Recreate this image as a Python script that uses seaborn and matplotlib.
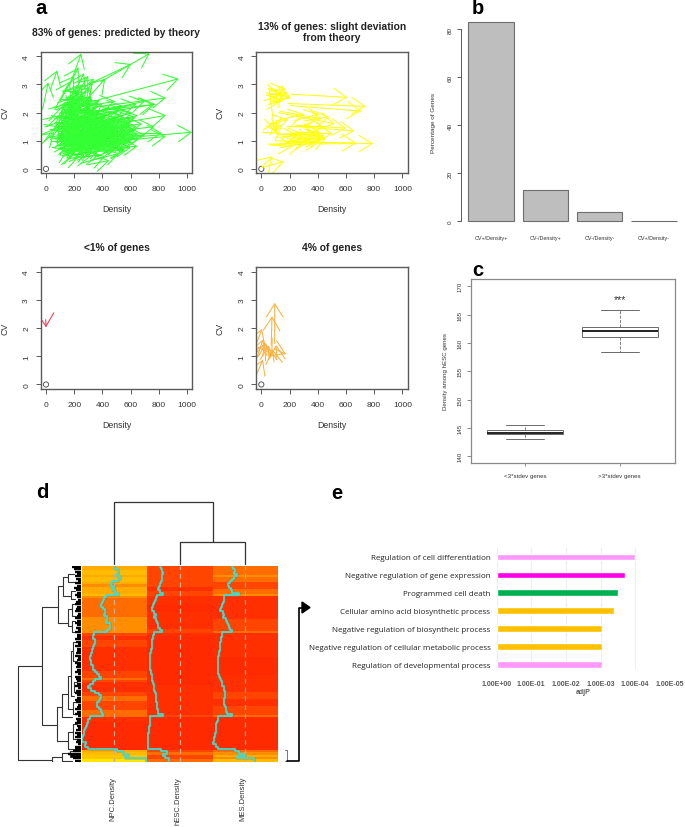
import numpy as np
import pandas as pd
import seaborn as sns
import matplotlib
matplotlib.use("Agg")
import matplotlib.pyplot as plt
from matplotlib.colors import LinearSegmentedColormap
from matplotlib.lines import Line2D
from matplotlib.patches import FancyArrowPatch, Polygon

# values
# arrows: (density start, cv start, density end, cv end)
green_arrows = [
    (420,1.05,1035,1.3),(370,2.45,940,3.2),(390,3.1,735,4.1),(300,3.0,605,3.72),(170,3.0,250,4.1),
    (350,2.2,850,2.52),(300,1.9,775,2.3),(500,1.6,850,1.9),(400,1.2,820,1.27),(300,0.9,848,1.15),
    (30,2.8,80,3.5),(120,2.7,200,3.3),(100,2.4,230,3.6),(60,2.1,170,3.1),(-24,2.12,16,3.07),
    (210,2.6,300,3.3),(150,2.3,340,3.2),(240,2.2,420,3.2),(130,2.0,310,2.9),(80,1.8,230,3.0),
    (180,2.5,270,3.4),(200,2.3,330,3.05),(170,2.4,260,3.0),(-40,0.85,60,1.3),(-40,1.2,100,1.5),
    (-10,1.0,100,1.7),(20,1.7,130,2.3),(10,1.5,90,1.9),(250,1.9,640,2.3),(330,2.0,700,2.4),
    (400,2.1,760,2.28),(300,1.5,650,1.9),(350,1.4,680,1.6),(280,1.2,600,1.55),(360,1.0,640,1.4),
    (420,1.3,770,1.5),(380,1.1,700,1.2),(330,0.9,660,1.1),(300,0.8,600,1.0),(250,0.7,650,0.8),
    (300,0.6,560,0.7),(200,0.5,480,0.7),(320,0.3,520,0.55),(250,0.2,420,0.45),(300,0.15,450,0.3),
    (60,0.6,230,1.1),(80,0.9,210,1.7),(90,1.1,190,2.0),(70,1.3,220,2.2),(100,1.6,240,2.5),
    (120,1.8,260,2.7),(90,0.5,190,0.9),(110,0.7,260,1.2),(130,0.9,300,1.5),(140,1.2,280,1.9),
    (150,1.5,300,2.3),(160,1.7,320,2.6),(170,2.0,330,2.5),(100,1.0,330,1.3),(120,1.3,360,1.7),
    (130,0.6,340,0.9),(150,0.4,300,0.7),(170,0.8,410,1.2),(190,1.1,420,1.6),(180,1.4,380,2.0),
    (200,1.7,400,2.3),(210,1.9,370,2.4),(160,1.0,450,1.5),(190,0.6,430,1.0),(220,0.9,480,1.3),
    (230,1.2,500,1.7),(240,1.5,470,2.0),(250,1.7,450,2.2),(220,0.5,390,0.8),(260,0.7,520,1.0),
    (270,1.0,560,1.4),(280,1.3,540,1.8),(300,1.6,520,2.1),(130,1.4,250,1.6),(110,1.7,230,1.9),
    (140,2.0,240,2.3),(150,0.7,250,0.8),(170,1.2,270,1.4),(190,0.9,300,1.0),(200,1.5,310,1.7),
    (210,1.3,330,1.5),(230,1.8,340,2.0),(220,1.0,340,1.1),(250,1.4,370,1.6),(260,1.1,390,1.3),
    (240,0.7,360,0.8),(280,0.8,410,1.0),(300,1.1,440,1.3),(310,1.4,450,1.7),(290,1.7,420,1.9),
    (330,1.2,480,1.4),(340,0.9,490,1.1),(350,1.6,500,1.8),(370,1.3,530,1.5),(380,0.8,540,0.9),
    (400,1.1,580,1.2),(410,1.5,590,1.6),(430,0.7,600,0.75),(120,1.1,200,1.3),(100,1.4,180,1.6),
    (130,1.7,210,2.1),(140,0.8,220,1.0),(160,1.3,240,1.5),(170,1.6,250,1.9),(180,1.0,260,1.2),
    (190,1.8,270,2.1),(200,0.7,280,0.9),(210,1.2,290,1.3),(220,1.5,300,1.7),(230,2.0,310,2.3),
    (240,1.0,320,1.2),(250,0.6,330,0.75),(260,1.3,340,1.4),(270,1.6,350,1.8),(280,1.0,360,1.15),
    (290,1.2,370,1.35),(300,0.9,380,1.05),(310,1.5,390,1.6),(150,1.1,310,1.3),(170,1.5,330,1.75),
    (190,1.3,350,1.45),(210,0.8,370,0.95),(230,1.1,390,1.25),(250,1.5,410,1.65),(130,1.2,270,1.0),
    (160,1.9,300,1.6),(180,1.2,340,0.9),(200,2.1,360,1.8),(220,1.6,420,1.25),(240,1.3,440,1.05),
    (260,1.8,480,1.45),(280,1.5,520,1.2),(300,1.3,560,1.0),
]
green_core = [
    (110,0.95,290,1.35),(120,0.55,280,0.75),(140,1.05,320,1.55),(150,1.3,340,2.05),(160,0.65,310,1.05),
    (170,1.85,310,2.45),(180,0.75,360,1.25),(190,1.55,350,2.2),(200,1.05,380,1.45),(210,1.65,380,2.05),
    (220,0.75,420,1.1),(230,1.35,400,1.85),(240,0.85,460,1.2),(250,1.2,430,1.7),(260,1.55,430,1.95),
    (270,0.75,500,0.95),(280,1.1,500,1.45),(290,1.45,490,1.75),(300,0.7,530,0.85),(310,1.05,540,1.25),
    (320,1.3,560,1.45),(330,1.55,550,1.9),(340,0.75,570,0.95),(350,1.1,590,1.3),(360,1.35,600,1.55),
    (120,0.75,220,0.65),(130,1.05,230,0.85),(140,1.55,240,1.25),(150,1.85,250,1.55),(160,2.2,260,1.95),
    (170,0.55,270,0.5),(180,0.95,280,0.75),(190,1.45,290,1.15),(200,1.95,300,1.7),(210,2.35,320,2.1),
    (220,1.15,320,0.9),(230,0.6,330,0.55),(240,1.6,340,1.35),(250,2.1,350,1.85),(260,0.95,360,0.7),
    (270,1.35,370,1.15),(280,1.85,380,1.6),(290,0.85,390,0.65),(300,1.25,400,1.05),(310,1.65,410,1.5),
    (320,0.95,420,0.8),(330,1.45,430,1.25),(340,1.1,440,0.95),(350,0.7,450,0.6),(360,1.25,460,1.1),
    (370,1.55,470,1.4),(380,0.95,480,0.85),(390,1.35,500,1.2),(400,0.85,510,0.75),(410,1.15,530,1.05),
    (100,1.2,190,1.05),(110,1.5,200,1.3),(120,1.9,210,1.6),(130,2.2,220,2.45),(140,2.5,230,2.75),
    (150,2.15,250,2.5),(170,2.2,270,2.6),(190,2.4,290,2.75),(220,2.2,320,2.55),(250,2.0,350,2.35),
    (280,2.1,380,2.45),
]
green_fringe = [
    (60,0.75,170,1.15),(70,1.05,165,1.5),(80,1.45,170,1.95),(90,1.75,180,2.3),(95,0.55,160,0.7),
    (105,1.25,150,1.75),(110,2.05,190,2.55),(115,0.85,190,1.2),(125,1.55,200,2.15),(135,0.5,210,0.6),
    (70,0.95,130,1.25),(85,1.25,135,0.95),(100,2.0,150,1.75),(120,2.3,170,2.05),(75,1.6,145,1.35),
    (90,0.8,150,1.0),(105,1.85,205,2.45),(140,1.0,195,0.8),(145,1.35,215,1.05),(150,1.65,225,1.4),
    (155,2.05,235,1.8),(165,0.9,235,0.6),(175,2.55,245,2.3),(430,1.0,625,1.1),(440,1.25,620,1.4),
    (420,0.85,610,0.95),(450,1.45,640,1.5),(460,1.15,650,1.25),(380,1.5,600,1.75),(390,0.7,560,0.65),
    (400,1.7,610,2.0),(420,1.6,630,1.85),(350,1.85,560,2.1),(360,2.05,540,2.25),(310,2.25,490,2.4),
    (120,0.45,200,0.5),(220,0.4,320,0.45),(280,0.45,380,0.5),(160,0.35,240,0.45),
]
yellow_arrows = [
    (47,0.88,792,0.9),(190,2.32,740,2.22),(210,2.65,610,2.54),(270,0.95,674,0.92),(120,2.0,520,1.6),
    (130,2.05,425,1.77),(250,1.5,660,1.35),(100,1.25,450,1.17),(50,2.85,210,2.5),(60,2.75,170,2.85),
    (50,2.6,165,2.42),(60,2.3,150,2.75),(5,0.05,160,0.26),(0,0.05,80,0.45),(55,2.85,95,1.3),
    (60,0.85,415,1.0),(100,1.0,340,0.95),(240,1.3,505,1.25),(70,0.85,225,0.8),(200,2.25,710,2.05),
    (120,1.2,410,1.35),(150,1.1,300,1.25),(180,1.5,440,1.5),(100,1.7,300,1.95),(60,1.6,190,1.75),
    (50,1.5,120,1.25),(200,0.9,440,1.15),(130,0.75,290,0.9),(150,1.15,260,1.2),
    (70,2.55,180,2.7),(80,2.4,140,2.4),(40,2.7,130,2.6),(100,2.65,200,2.55),(210,1.1,420,1.05),
    (250,1.25,400,1.2),(300,0.85,460,1.1),(120,0.85,330,1.1),(170,1.25,350,1.0),(180,0.95,420,1.25),
    (90,1.35,150,1.55),(60,1.2,110,1.7),(230,1.7,410,1.95),(240,1.55,600,1.45),(300,1.7,480,1.85),
]
red_arrows = [(-2, 2.3, 0, 2.03)]
orange_arrows = [
    (95,1.45,95,2.9),(70,1.4,76,2.42),(-35,1.45,5,1.97),(-30,0.95,12,1.6),(10,1.0,25,1.5),
    (-20,1.0,28,1.43),(90,0.8,78,1.25),(110,0.9,105,1.4),(50,1.0,50,1.38),(-35,0.35,12,0.88),
    (100,1.25,175,1.08),(30,1.45,78,1.05),
]
panel_titles = ["83% of genes: predicted by theory", "13% of genes: slight deviation\nfrom theory",
                "<1% of genes", "4% of genes"]

bar_labels = ["CV+/Density+", "CV-/Density+", "CV-/Density-", "CV+/Density-"]
bar_values = [83, 13, 4, 0.2]

box_groups = ["<3*stdev genes"] * 5 + [">3*stdev genes"] * 5
box_values = [143.0, 143.9, 144.2, 144.6, 145.6, 158.5, 161.1, 162.05, 162.9, 165.8]

col_names = ["NPC.Density", "hESC.Density", "MES.Density"]
npc_density = [.51,.51,.55,.55,.54,.59,.56,.46,.45,.49,.46,.51,.56,.37,.34,.33,.31,.29,.33,.35,.36,
               .34,.38,.39,.37,.43,.44,.41,.38,.19,.17,.18,.20,.20,.19,.17,.16,.15,.14,.13,.13,.14,
               .14,.17,.18,.20,.23,.26,.29,.20,.17,.12,.09,.14,.20,.26,.30,.28,.26,.24,.23,.27,.30,
               .31,.32,.12,.10,.09,.08,.07,.05,.04,.03,.02,.01,.01,.07,.05,.09,.54,.63,.71,.66,.99]
hesc_density = [.19,.21,.23,.25,.23,.22,.23,.21,.19,.18,.17,.19,.25,.15,.13,.12,.11,.09,.08,.07,.11,
                .13,.11,.14,.15,.16,.17,.19,.22,.10,.09,.09,.08,.08,.07,.07,.06,.06,.05,.04,.04,.04,
                .05,.05,.05,.06,.06,.07,.08,.08,.09,.10,.11,.11,.12,.13,.13,.14,.14,.15,.15,.15,.16,
                .17,.24,.05,.05,.04,.04,.03,.03,.03,.02,.02,.02,.01,.01,.01,.02,.21,.30,.25,.27,.33]
mes_density = [.30,.31,.34,.32,.38,.32,.30,.27,.23,.25,.28,.29,.41,.18,.18,.17,.16,.14,.13,.12,.16,
               .18,.16,.20,.22,.24,.25,.27,.30,.14,.14,.13,.13,.12,.12,.11,.11,.10,.10,.09,.09,.09,
               .08,.08,.08,.08,.09,.10,.12,.13,.14,.15,.17,.18,.19,.19,.19,.18,.18,.18,.19,.20,.21,
               .22,.30,.09,.08,.07,.06,.06,.05,.05,.04,.03,.02,.02,.01,.06,.08,.35,.40,.50,.37,.63]
# left tree: (x of join, y top, y bottom, x top child, x bottom child)
row_tree = [
    (53,560,843,125,155),(125,383,737,175,170),(175,322,432,190,205),(190,295,350,205,212),
    (205,285,310,222,225),(212,335,360,225,225),(205,390,440,215,215),(215,375,410,228,228),
    (215,425,460,225,228),(170,685,785,185,205),(185,645,715,205,215),(205,590,690,212,218),
    (212,515,650,220,222),(220,490,545,230,230),(222,610,640,232,232),(218,670,705,232,232),
    (205,760,810,218,225),(218,735,780,230,232),(155,835,848,185,190),(185,822,845,210,215),
    (210,815,835,230,232),
]
leaf_start = [215,222,226,232,224,228,234,226,230,222,228,232,226,230,234,228,224,232,228,226,234,230,
              226,232,224,230,228,234,226,232,230,224,228,234,226,230,232,228,224,234,230,226,232,228,
              230,226,234,224,228,232,230,226,234,228,224,232,230,226,228,234,232,226,230,224,234,228,
              232,226,230,234,228,224,232,226,230,228,234,226,224,218,205,212,220,226]

go_terms = ["Regulation of cell differentiation", "Negative regulation of gene expression",
            "Programmed cell death", "Cellular amino acid biosynthetic process",
            "Negative regulation of biosyntheic process", "Negative regulation of cellular metabolic process",
            "Regulation of developmental process"]
go_adjp = [1.0e-4, 2.0e-4, 3.1e-4, 4.1e-4, 9.1e-4, 9.1e-4, 9.1e-4]
go_colors = ["#FF99FF", "#FF00E6", "#00B050", "#FFC000", "#FFC000", "#FFC000", "#FF99FF"]
adjp_ticks = ["1.00E+00", "1.00E-01", "1.00E-02", "1.00E-03", "1.00E-04", "1.00E-05"]

W, H = 685, 828
sns.set_style("ticks")
plt.rcParams["font.family"] = ["Liberation Sans", "DejaVu Sans"]
fig = plt.figure(figsize=(W / 100, H / 100), dpi=100)
AXC = "#5a5a5a"
TXT = "#333333"


def ax_px(left, top, right, bottom):
    return fig.add_axes([left / W, 1 - bottom / H, (right - left) / W, (bottom - top) / H])


def txt(x, y, s, size, rotation=0, weight="normal", color=TXT, ha="center", va="center", **kw):
    fig.text(x / W, 1 - y / H, s, fontsize=size, rotation=rotation, weight=weight,
             color=color, ha=ha, va=va, **kw)


def line_px(xs, ys, color="black", lw=1.2):
    fig.add_artist(Line2D([x / W for x in xs], [1 - y / H for y in ys], color=color, lw=lw))


# a: arrow panels
def arrow_panel(left, top, arrows, color, title, title_y):
    ax = ax_px(left, top, left + 151.6, top + 121.5)
    sns.scatterplot(x=[0], y=[0], ax=ax, s=14, facecolor="none", edgecolor=AXC, linewidth=0.7)
    for x0, y0, x1, y1 in arrows:
        ax.add_patch(FancyArrowPatch((x0, y0), (x1, y1), arrowstyle="->,head_length=0.95,head_width=0.6",
                                     mutation_scale=10, shrinkA=0, shrinkB=0, color=color, lw=0.75))
    ax.set_xlim(-37.6, 1037)
    ax.set_ylim(-0.153, 4.16)
    ax.set_xticks(range(0, 1001, 200))
    ax.set_yticks(range(0, 5))
    ax.tick_params(length=3.6, width=0.7, color=AXC, labelsize=6, labelcolor=TXT, pad=5)
    ax.tick_params(axis="y", labelrotation=90, pad=4)
    for lab in ax.get_yticklabels():
        lab.set_va("center")
    for sp in ax.spines.values():
        sp.set_color(AXC)
        sp.set_linewidth(1.0)
    cx = left + 75.8
    txt(cx, title_y, title, 7.4, weight="bold", color="#222222", linespacing=1.05)
    txt(cx, top + 157.3, "Density", 6.3)
    txt(left - 35.7, top + 60.6, "CV", 6.3, rotation=90)


arrow_panel(40.7, 52.7, green_arrows + green_core + green_fringe, "#33FF33", panel_titles[0], 32.5)
arrow_panel(256, 52.7, yellow_arrows, "#FFFF11", panel_titles[1], 32.5)
arrow_panel(40.7, 268.3, red_arrows, "#E8384F", panel_titles[2], 248)
arrow_panel(256, 268.3, orange_arrows, "#FBB040", panel_titles[3], 248)

# b: bars
ax = ax_px(460.7, 20, 680, 222.3)
sns.barplot(x=bar_labels, y=bar_values, ax=ax, width=0.835, color="#BEBEBE", saturation=1,
            edgecolor="#6e6e6e", linewidth=0.8)
for p in ax.patches:
    p.set_clip_on(False)
ax.set_xlim(-0.557, 3.478)
ax.set_ylim(0, 84.3)
ax.set_yticks(range(0, 81, 20))
ax.tick_params(axis="y", length=3, width=0.7, color=AXC, labelsize=4.6, labelcolor=TXT, pad=3, labelrotation=90)
for lab in ax.get_yticklabels():
    lab.set_va("center")
ax.tick_params(axis="x", length=0, labelsize=3.9, labelcolor=TXT, pad=10)
for s in ["top", "right", "bottom"]:
    ax.spines[s].set_visible(False)
ax.spines["left"].set_bounds(0, 80)
ax.spines["left"].set_color(AXC)
ax.spines["left"].set_linewidth(0.7)
txt(433.3, 123.3, "Percentage of Genes", 4.6, rotation=90)

# c: box plot
ax = ax_px(470.7, 280, 675, 464.3)
sns.boxplot(x=box_groups, y=box_values, ax=ax, width=0.8, whis=(0, 100), fliersize=0, color="white",
            linecolor="#6a6a6a", linewidth=0.7, capwidths=0.4, saturation=1,
            whiskerprops={"linestyle": "--", "linewidth": 0.6},
            medianprops={"color": "#222222", "linewidth": 1.4})
ax.set_xlim(0.427 - 1, 2.584 - 1)
ax.set_ylim(138.77, 171.3)
ax.set_yticks(range(140, 171, 5))
ax.tick_params(axis="y", length=3, width=0.7, color="#8a8a8a", labelsize=4.4, labelcolor=TXT, pad=3, labelrotation=90)
for lab in ax.get_yticklabels():
    lab.set_va("center")
ax.tick_params(axis="x", length=2, width=0.7, color="#8a8a8a", labelsize=4.4, labelcolor=TXT, pad=5)
for sp in ax.spines.values():
    sp.set_color("#8a8a8a")
    sp.set_linewidth(0.9)
ax.text(1, 167.7, "***", ha="center", va="center", fontsize=7.5, color=TXT)
txt(445, 371.7, "Density among hESC genes", 4.4, rotation=90)

# d: heat map with traces
heat = pd.DataFrame({"NPC": npc_density, "hESC": hesc_density, "MES": mes_density})
cmap = LinearSegmentedColormap.from_list(
    "heat", [(0, "#FF2A00"), (0.15, "#FF3200"), (0.33, "#FF7800"), (0.53, "#FFB400"), (1, "#FFE600")], N=11)
ax = ax_px(81.7, 566.7, 278, 762.7)
sns.heatmap(heat, ax=ax, cmap=cmap, vmin=0, vmax=1, cbar=False, xticklabels=False, yticklabels=False)
rows = np.arange(len(heat)) + 0.5
for i, name in enumerate(heat.columns):
    ax.axvline(i + 0.5, color="#C8AE8C", lw=0.9, ls=(0, (4, 3)))
    ax.plot(heat[name] + i, rows, color="#777777", lw=1.9, alpha=0.35, drawstyle="steps-post")
    ax.plot(heat[name] + i, rows, color="#40E0D0", lw=1.2, drawstyle="steps-post")
ax.set_xlabel("")
ax.set_ylabel("")
for i, name in enumerate(col_names):
    txt(112.7 + 65.3 * i, 777, name, 5.5, rotation=90, va="top")

# top tree
ax = ax_px(81.7, 500, 278, 566.7)
ax.axis("off")
ax.set_xlim(0, 3)
ax.set_ylim(0, 66.7)
ax.plot([1.5, 1.5, 2.5, 2.5], [1.7, 23.4, 23.4, 1.7], color="#333333", lw=0.9)
ax.plot([0.5, 0.5, 2.0, 2.0], [1.7, 64, 64, 23.4], color="#333333", lw=0.9)

# left tree
ax = ax_px(15, 566.7, 81.7, 762.7)
ax.axis("off")
ax.set_xlim(45, 245)
ax.set_ylim(848, 260)
for xj, yt, yb, xc1, xc2 in row_tree:
    ax.plot([xc1, xj, xj, xc2], [yt, yt, yb, yb], color="#333333", lw=0.8)
ax.hlines(260 + 7 * (rows), leaf_start, 243, color="black", lw=1.7)

# bracket and arrow between d and e
line_px([284.5, 287, 287, 284.5], [751, 751, 762, 762], color="#777777", lw=0.7)
line_px([287, 299, 299, 303], [761.5, 761.5, 608.5, 608.5], lw=1.2)
fig.add_artist(Polygon([[302 / W, 1 - 603 / H], [310 / W, 1 - 608.5 / H], [302 / W, 1 - 614 / H]],
                       transform=fig.transFigure, color="black"))

# e: enrichment bars
ax = ax_px(496.7, 549, 669.7, 670)
sns.barplot(x=-np.log10(go_adjp), y=go_terms, hue=go_terms, palette=go_colors, ax=ax, width=0.37,
            saturation=1, legend=False, dodge=False, orient="h")
ax.set_xlim(0, 5)
ax.set_ylim(6.26, -0.5)
ax.set_xticks(range(6))
ax.set_xticklabels(adjp_ticks)
ax.xaxis.grid(True, color="#EEEEEE", lw=0.8)
ax.set_axisbelow(True)
ax.tick_params(axis="x", length=0, labelsize=5, labelcolor="#5a5a5a", pad=8)
for lab in ax.get_xticklabels():
    lab.set_fontweight("bold")
ax.tick_params(axis="y", length=0, labelsize=5.8, labelcolor="#222222", pad=4.5)
for lab in ax.get_yticklabels():
    lab.set_family("Open Sans")
sns.despine(ax=ax, left=True, bottom=True)
txt(583, 693, "adjP", 5, weight="bold", color="#5a5a5a")

# panel letters
for s, x, y in [("a", 41, 9), ("b", 478, 8), ("c", 477.7, 270), ("d", 42, 493), ("e", 336.7, 494)]:
    txt(x, y, s, 14.5, weight="bold", color="black")

fig.savefig("out.png", dpi=100)
